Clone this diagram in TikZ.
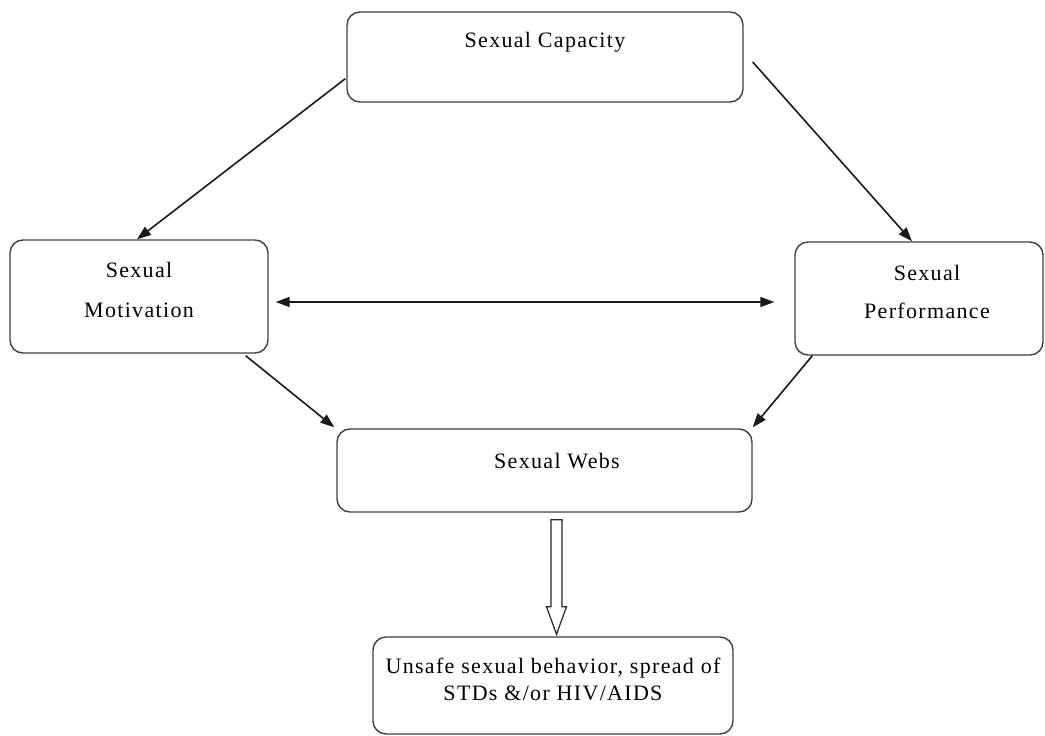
\documentclass[tikz,border=0pt]{standalone}
\usepackage{fontspec}
\setmainfont{Liberation Serif}[LetterSpace=6]
\usetikzlibrary{arrows.meta,calc}
\begin{document}
\begin{tikzpicture}[x=1pt,y=-1pt,
  box/.style={draw=black!75,line width=1.4pt,rounded corners=13pt,fill=white,inner sep=0pt},
  lbl/.style={font=\fontsize{22}{26}\selectfont,anchor=base,inner sep=0pt},
  conn/.style={draw=black!90,line width=1.6pt,-{Triangle[length=14pt,width=10pt]}},
  dconn/.style={draw=black!90,line width=1.6pt,{Triangle[length=14pt,width=10pt]}-{Triangle[length=14pt,width=10pt]}},
  hollow/.style={draw=black!85,line width=1.2pt,fill=white,line join=miter}
]
\useasboundingbox (0,0) rectangle (1045,736);

% boxes
\node[box,minimum width=396pt,minimum height=90pt] (cap) at (545,57) {};
\node[box,minimum width=258pt,minimum height=113pt] (mot) at (139,296.5) {};
\node[box,minimum width=248pt,minimum height=113pt] (perf) at (919,298.5) {};
\node[box,minimum width=415pt,minimum height=83pt] (webs) at (544.5,470.5) {};
\node[box,minimum width=360pt,minimum height=97pt] (out) at (553,685.5) {};

% labels
\node[lbl] (capt) at (545,47) {Sexual Capacity};
\node[lbl] (mot1) at (139,277) {Sexual};
\node[lbl] (mot2) at (139,317) {Motivation};
\node[lbl] (perf1) at (927,280) {Sexual};
\node[lbl] (perf2) at (927,318) {Performance};
\node[lbl] (webst) at (557,468) {Sexual Webs};
\node[lbl] (out1) at (553,673) {Unsafe sexual behavior, spread of};
\node[lbl] (out2) at (553,700) {STDs \&/or HIV/AIDS};

% connectors
\draw[conn] ($(cap.south west)+(-1,-24)$) -- ($(mot.north)+(-2,0)$);
\draw[conn] ($(cap.east)+(9,5)$) -- ($(perf.north)+(-7,0)$);
\draw[dconn] ($(mot.east)+(7,5.5)$) -- ($(perf.west)+(-20,3.5)$);
\draw[conn] ($(mot.south east)+(-23,2)$) -- ($(webs.north west)+(-2,-1)$);
\draw[conn] ($(perf.south west)+(18,0)$) -- ($(webs.north east)+(0,-1)$);

% hollow block arrow
\coordinate (ha) at ($(webs.south)+(12,7)$);
\coordinate (hb) at ($(ha |- out.north)+(0,-2)$);
\draw[hollow] ($(ha)+(-5.5,0)$) -- ($(ha)+(-5.5,87)$) -- ($(ha)+(-10,87)$) -- (hb)
  -- ($(ha)+(10,87)$) -- ($(ha)+(5.5,87)$) -- ($(ha)+(5.5,0)$) -- cycle;
\end{tikzpicture}
\end{document}
